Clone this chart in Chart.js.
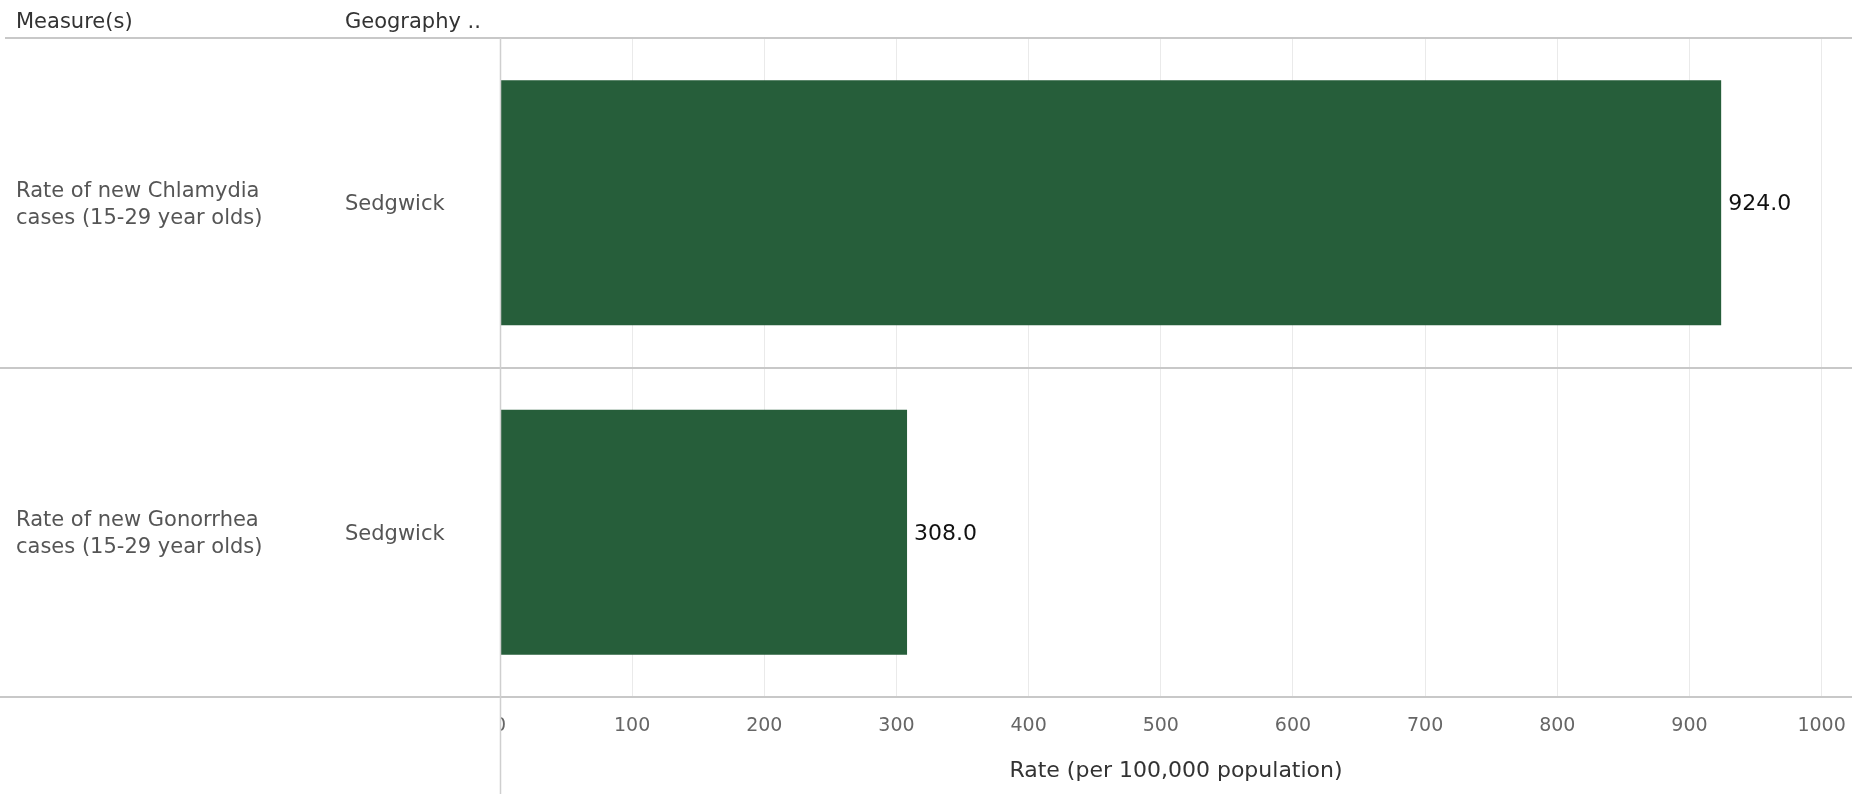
<!DOCTYPE html>
<html lang="en">
<head>
  <meta charset="UTF-8" />
  <title>Rate of new STI cases</title>
  <script src="https://cdn.jsdelivr.net/npm/chart.js"></script>
  <style>
    html, body {
      margin: 0;
      padding: 0;
      background: #fff;
    }

    .wrap {
      position: relative;
      width: 1852px;
      height: 794px;
    }
  </style>
</head>
<body>

<div class="wrap">
  <canvas id="chart" width="1852" height="794"></canvas>
</div>

<script>
  const measures = [
    ['Rate of new Chlamydia', 'cases (15-29 year olds)'],
    ['Rate of new Gonorrhea', 'cases (15-29 year olds)']
  ];
  const geography = ['Sedgwick', 'Sedgwick'];
  const rates = [924.0, 308.0];
  const tickValues = [0, 100, 200, 300, 400, 500, 600, 700, 800, 900, 1000];
  const axisMax = 1023;

  const FONT = '"DejaVu Sans", Verdana, sans-serif';
  const barColor = '#265e3a';

  // left-hand table, separators, value labels
  const tablePlugin = {
    id: 'table',
    afterDraw(chart) {
      const ctx = chart.ctx;
      const x = chart.scales.x;
      const y = chart.scales.y;
      const area = chart.chartArea;
      const n = measures.length;
      const dy = 2; // DejaVu sits a bit high with 'middle'

      ctx.save();

      // axis labels are clipped at the pane edge
      ctx.fillStyle = '#fff';
      ctx.fillRect(0, area.bottom + 1, area.left, chart.height - area.bottom);

      // headers
      ctx.font = '21px ' + FONT;
      ctx.fillStyle = '#333';
      ctx.textBaseline = 'middle';
      ctx.textAlign = 'left';
      ctx.fillText('Measure(s)', 16, 21 + dy);
      ctx.fillText('Geography ..', 345, 21 + dy);

      // separators
      ctx.strokeStyle = '#c8c8c8';
      ctx.lineWidth = 2;
      ctx.beginPath();
      ctx.moveTo(5, area.top);
      ctx.lineTo(chart.width, area.top);
      for (let i = 1; i <= n; i++) {
        const py = Math.round(y.getPixelForDecimal(i / n));
        ctx.moveTo(0, py);
        ctx.lineTo(chart.width, py);
      }
      ctx.stroke();

      // zero line
      const x0 = Math.round(x.getPixelForValue(0)) + 0.5;
      ctx.strokeStyle = '#cfcfcf';
      ctx.lineWidth = 1.5;
      ctx.beginPath();
      ctx.moveTo(x0, area.top);
      ctx.lineTo(x0, chart.height);
      ctx.stroke();

      // row labels
      ctx.fillStyle = '#555';
      measures.forEach((lines, i) => {
        const cy = y.getPixelForValue(i) + dy;
        const lh = 27;
        lines.forEach((t, j) => {
          ctx.fillText(t, 16, cy + (j - (lines.length - 1) / 2) * lh);
        });
        ctx.fillText(geography[i], 345, cy);
      });

      // value labels
      ctx.font = '22px ' + FONT;
      ctx.fillStyle = '#111';
      const meta = chart.getDatasetMeta(0);
      meta.data.forEach((bar, i) => {
        ctx.fillText(rates[i].toFixed(1), bar.x + 7, bar.y + dy);
      });

      ctx.restore();
    }
  };

  new Chart(document.getElementById('chart'), {
    type: 'bar',
    data: {
      labels: measures.map(m => m.join(' ')),
      datasets: [{
        data: rates,
        backgroundColor: barColor,
        borderWidth: 0,
        barPercentage: 0.744,
        categoryPercentage: 1
      }]
    },
    options: {
      indexAxis: 'y',
      responsive: false,
      animation: false,
      layout: {
        padding: { left: 500, top: 38, right: 0, bottom: 0 }
      },
      plugins: {
        legend: { display: false },
        tooltip: { enabled: false }
      },
      scales: {
        x: {
          min: 0,
          max: axisMax,
          afterBuildTicks: axis => {
            axis.ticks = tickValues.map(v => ({ value: v }));
          },
          afterFit: axis => {
            axis.height = 97;
            axis.paddingLeft = 0;
            axis.paddingRight = 0;
          },
          border: { display: false },
          grid: {
            color: c => (c.tick && c.tick.value === 0) ? 'rgba(0,0,0,0)' : '#eaeaea',
            drawTicks: false
          },
          ticks: {
            padding: 18,
            maxRotation: 0,
            autoSkip: false,
            color: '#666',
            font: { family: FONT, size: 19 },
            callback: v => String(v)
          },
          title: {
            display: true,
            text: 'Rate (per 100,000 population)',
            color: '#333',
            font: { family: FONT, size: 22 },
            padding: { top: 10, bottom: 10 }
          }
        },
        y: {
          display: false,
          grid: { display: false }
        }
      }
    },
    plugins: [tablePlugin]
  });
</script>

</body>
</html>
